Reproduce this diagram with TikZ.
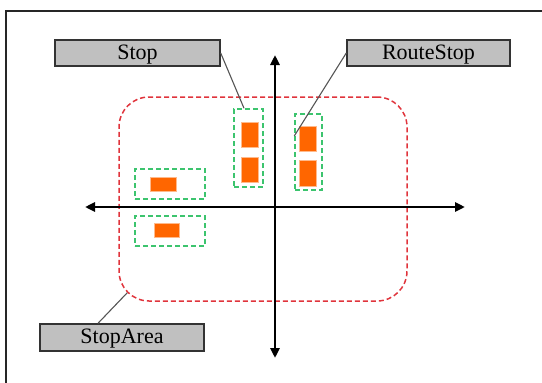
\documentclass[tikz,border=0pt]{standalone}
\usepackage{fontspec}
\setmainfont{Liberation Serif}
\usetikzlibrary{arrows.meta}
\definecolor{labelgray}{HTML}{C0C0C0}
\definecolor{areared}{HTML}{E0343C}
\definecolor{stopgreen}{HTML}{3CC46E}
\definecolor{quayorange}{HTML}{FF6600}
\definecolor{leadgray}{HTML}{555555}
\tikzset{
  label box/.style={draw=black!80, line width=1.4pt, fill=labelgray, inner sep=0pt,
    font=\fontsize{22}{24}\selectfont, text=black, text height=15pt, text depth=3pt},
  area box/.style={draw=areared, dash pattern=on 5pt off 3pt, line width=1.5pt,
    rounded corners=30pt, inner sep=0pt},
  group box/.style={draw=stopgreen, dash pattern=on 5pt off 3pt, line width=1.5pt, inner sep=0pt},
  quay/.style={fill=quayorange, draw=quayorange!45, line width=0.6pt, inner sep=0pt},
  axis/.style={line width=2.8pt, -{Triangle[length=10pt,width=9pt]}},
  leader/.style={draw=leadgray, line width=1.1pt},
}
\begin{document}
\begin{tikzpicture}[x=1pt,y=-1pt]
  \useasboundingbox (0,0) rectangle (542,383);
  % outer frame, running past the right and bottom edges
  \draw[line width=1.6pt, black!85] (6,400) -- (6,11) -- (560,11);

  % stop area
  \node[area box, minimum width=288pt, minimum height=204pt] (area) at (263,199) {};

  % stop groups
  \node[group box, minimum width=70pt, minimum height=30pt] (g1) at (170,184) {};
  \node[group box, minimum width=70pt, minimum height=30pt] (g2) at (170,231) {};
  \node[group box, minimum width=29pt, minimum height=78pt] (g3) at (248.5,148) {};
  \node[group box, minimum width=27pt, minimum height=76pt] (g4) at (308.5,152) {};

  % quays
  \node[quay, minimum width=26pt, minimum height=14pt] (qa) at (163,184) {};
  \node[quay, minimum width=25pt, minimum height=14pt] (qb) at (166.5,230) {};
  \node[quay, minimum width=17pt, minimum height=25pt] (qc) at (249.5,134.5) {};
  \node[quay, minimum width=17pt, minimum height=25pt] (qd) at (249.5,169.5) {};
  \node[quay, minimum width=17pt, minimum height=25pt] (qe) at (307.5,138.5) {};
  \node[quay, minimum width=17pt, minimum height=26pt] (qf) at (307.5,173) {};

  % axes
  \coordinate (axL) at (85,207);
  \coordinate (axR) at (465,207);
  \coordinate (axT) at (275,55);
  \coordinate (axB) at (275,358);
  \coordinate (axC) at (275,207);
  \draw[axis] (axC) -- (axR);
  \draw[axis] (axC) -- (axL);
  \draw[axis] (axC) -- (axT);
  \draw[axis] (axC) -- (axB);

  % labels
  \node[label box, minimum width=165pt, minimum height=26pt] (stop) at (137.5,53) {Stop};
  \node[label box, minimum width=163pt, minimum height=26pt] (routestop) at (428.5,53) {RouteStop};
  \node[label box, minimum width=164pt, minimum height=27pt] (stoparea) at (122,337.5) {StopArea};

  % leaders
  \draw[leader] (stop.east) -- ([xshift=-4.5pt]g3.north);
  \draw[leader] (routestop.west) -- ([yshift=16pt]g4.west);
  \draw[leader] ([xshift=-24pt]stoparea.north) -- ([shift={(9pt,9pt)}]area.south west);
\end{tikzpicture}
\end{document}
